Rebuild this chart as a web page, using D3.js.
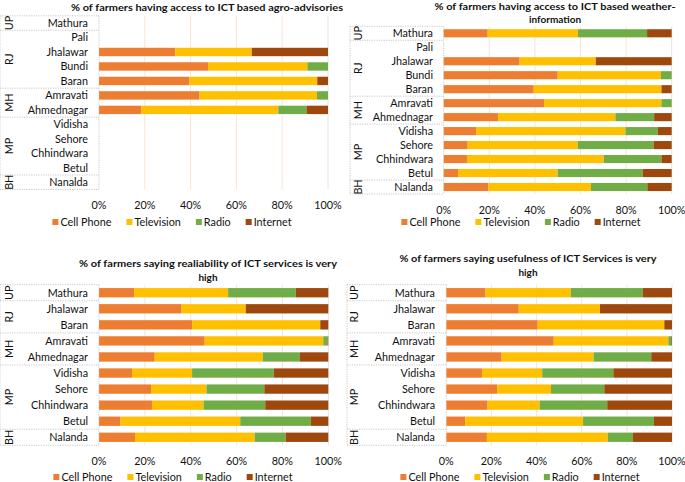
<html>
<script src='https://d3js.org/d3.v7.min.js'></script>
<style>
    body { margin: 0; background: #fff; }
    text { font-family: Lato, 'Open Sans', sans-serif; fill: #111; }
</style>

<body>
    <svg width=685 height=482></svg>
    <script>
        // series names and colours
        const series = ['Cell Phone', 'Television', 'Radio', 'Internet'];
        const colors = ['#ED7D31', '#FFC000', '#70AD47', '#9E480E'];
        const ticks = [0, 20, 40, 60, 80, 100];

        // districts, grouped by state
        const groupsA = [['UP', ['Mathura']], ['RJ', ['Pali', 'Jhalawar', 'Bundi', 'Baran']], ['MH', ['Amravati', 'Ahmednagar']], ['MP', ['Vidisha', 'Sehore', 'Chhindwara', 'Betul']], ['BH', ['Nanalda']]];
        const groupsB = [['UP', ['Mathura']], ['RJ', ['Pali', 'Jhalawar', 'Bundi', 'Baran']], ['MH', ['Amravati', 'Ahmednagar']], ['MP', ['Vidisha', 'Sehore', 'Chhindwara', 'Betul']], ['BH', ['Nalanda']]];
        const groupsC = [['UP', ['Mathura']], ['RJ', ['Jhalawar', 'Baran']], ['MH', ['Amravati', 'Ahmednagar']], ['MP', ['Vidisha', 'Sehore', 'Chhindwara', 'Betul']], ['BH', ['Nalanda']]];

        // % shares: Cell Phone, Television, Radio, Internet (null = no data)
        const agro = {
            Mathura: null, Pali: null,
            Jhalawar: [33.3, 33.4, 0, 33.3],
            Bundi: [47.6, 43.4, 9, 0],
            Baran: [39.5, 55.8, 0, 4.7],
            Amravati: [43.9, 51.3, 4.8, 0],
            Ahmednagar: [18.5, 59.8, 12.3, 9.4],
            Vidisha: null, Sehore: null, Chhindwara: null, Betul: null, Nanalda: null
        };
        const weather = {
            Mathura: [19.3, 39.6, 30.3, 10.8],
            Pali: null,
            Jhalawar: [33.3, 33.4, 0, 33.3],
            Bundi: [50, 45.3, 4.7, 0],
            Baran: [39.5, 56, 0, 4.5],
            Amravati: [44, 51.5, 4.5, 0],
            Ahmednagar: [23.8, 51.5, 17, 7.7],
            Vidisha: [14.2, 65.5, 14.2, 6.1],
            Sehore: [10.5, 48.3, 33.2, 8],
            Chhindwara: [10.2, 60, 25.3, 4.5],
            Betul: [6.3, 43.7, 37.3, 12.7],
            Nalanda: [19.6, 45, 24.7, 10.7]
        };
        const reliability = {
            Mathura: [15.3, 41, 29.5, 14.2],
            Jhalawar: [36, 28, 0, 36],
            Baran: [40.6, 55.9, 0, 3.5],
            Amravati: [46.1, 51.7, 1.9, 0.3],
            Ahmednagar: [24.3, 47.1, 16.2, 12.4],
            Vidisha: [14.4, 26.2, 35.6, 23.8],
            Sehore: [22.7, 24.2, 25.2, 27.9],
            Chhindwara: [23.1, 22.5, 26.9, 27.5],
            Betul: [9.4, 52.2, 30.8, 7.6],
            Nalanda: [15.7, 52.2, 13.5, 18.6]
        };
        const usefulness = {
            Mathura: [17.4, 37.8, 31.9, 12.9],
            Jhalawar: [32.1, 36, 0, 31.9],
            Baran: [40.5, 56.1, 0, 3.4],
            Amravati: [47.6, 50.8, 1.3, 0.3],
            Ahmednagar: [24.5, 40.8, 25.5, 9.2],
            Vidisha: [15.8, 26.7, 31.5, 26],
            Sehore: [22.5, 23.9, 23.6, 30],
            Chhindwara: [18.3, 23.1, 29.9, 28.7],
            Betul: [8.4, 52.2, 31.4, 8],
            Nalanda: [18, 53.5, 11.2, 17.3]
        };

        const panels = [
            { title: ['% of farmers having access to ICT based agro-advisories'], titleX: 207, titleY: [7], titleW: [272],
              groups: groupsA, values: agro, boxL: 0, grpX: 9, labR: 88, x0: 99, x1: 328, top: 15.8, bottom: 189.5,
              tickY: 205, legY: 222, legC: 172 },
            { title: ['% of farmers having access to ICT based weather-', 'information'], titleX: 555, titleY: [6, 19], titleW: [241, null],
              groups: groupsB, values: weather, boxL: 350, grpX: 358, labR: 433, x0: 443.7, x1: 671.7, top: 26.3, bottom: 194,
              tickY: 210, legY: 222, legC: 521 },
            { title: ['% of farmers saying realiability of ICT services is very', 'high'], titleX: 208, titleY: [263, 277], titleW: [258, null],
              groups: groupsC, values: reliability, boxL: 0, grpX: 9, labR: 88, x0: 99, x1: 328.3, top: 284.7, bottom: 445.3,
              tickY: 461, legY: 477, legC: 173 },
            { title: ['% of farmers saying usefulness of ICT Services is very', 'high'], titleX: 528, titleY: [258, 272], titleW: [257, null],
              groups: groupsC, values: usefulness, boxL: 347, grpX: 354, labR: 435, x0: 446.3, x1: 672, top: 284.7, bottom: 445.3,
              tickY: 461, legY: 477, legC: 520 }
        ];

        const svg = d3.select('svg');
        const fs = '10.8px';
        const legGap = 15;

        panels.forEach(p => {
            const g = svg.append('g');
            const cats = p.groups.flatMap(d => d[1]);
            const x = d3.scaleLinear().domain([0, 100]).range([p.x0, p.x1]);
            const y = d3.scaleBand().domain(cats).range([p.top, p.bottom]).paddingInner(0.42).paddingOuter(0.21);

            // gridlines
            g.selectAll('.grid').data(ticks.slice(1)).enter().append('line')
                .attr('x1', d => x(d)).attr('x2', d => x(d))
                .attr('y1', p.top).attr('y2', p.bottom)
                .attr('stroke', d => d == 100 ? '#e4e4e4' : '#fbe3d3').attr('stroke-width', 1);

            // stacked bars
            const rows = cats.filter(c => p.values[c]).map(c => {
                let acc = 0;
                return p.values[c].map((v, i) => { const s = { cat: c, i: i, a: acc, b: acc + v }; acc += v; return s; });
            }).flat().filter(s => s.b > s.a);
            g.selectAll('rect').data(rows).enter().append('rect')
                .attr('x', d => x(d.a)).attr('width', d => x(d.b) - x(d.a))
                .attr('y', d => y(d.cat)).attr('height', y.bandwidth())
                .attr('fill', d => colors[d.i]);

            // category box (dotted)
            const dotted = sel => sel.attr('stroke', '#bbb').attr('stroke-width', 0.8).attr('stroke-dasharray', '1.2,1.2');
            let edges = [p.top], acc = 0;
            p.groups.forEach(gr => { acc += gr[1].length; edges.push(p.top + acc * y.step()); });
            edges.forEach(e => {
                g.append('line').attr('x1', p.boxL).attr('x2', p.x0).attr('y1', e).attr('y2', e).call(dotted);
            });
            [p.boxL, p.x0].forEach(xx => {
                g.append('line').attr('x1', xx).attr('x2', xx).attr('y1', p.top).attr('y2', p.bottom).call(dotted);
            });

            // district labels
            g.selectAll('.cat').data(cats).enter().append('text')
                .attr('x', p.labR).attr('y', d => y(d) + y.bandwidth() / 2)
                .attr('text-anchor', 'end').attr('dy', '0.35em')
                .style('font-size', fs).text(d => d);

            // state labels (rotated)
            let start = 0;
            p.groups.forEach(gr => {
                const cy = p.top + (start + gr[1].length / 2) * y.step();
                start += gr[1].length;
                g.append('text').attr('transform', `translate(${p.grpX},${cy}) rotate(-90)`)
                    .attr('text-anchor', 'middle').attr('dy', '0.35em')
                    .style('font-size', fs).text(gr[0]);
            });

            // x axis labels
            g.selectAll('.tick').data(ticks).enter().append('text')
                .attr('x', d => x(d)).attr('y', p.tickY).attr('dy', '0.35em')
                .attr('text-anchor', 'middle').style('font-size', fs).text(d => d + '%');

            // title
            p.title.forEach((t, i) => {
                const tt = g.append('text').attr('x', p.titleX).attr('y', p.titleY[i]).attr('dy', '0.35em')
                    .attr('text-anchor', 'middle').style('font-size', '10px').style('font-weight', 'bold').text(t);
                if (p.titleW[i]) tt.attr('textLength', p.titleW[i]).attr('lengthAdjust', 'spacingAndGlyphs');
            });

            // legend, laid out from measured text widths and centred
            const leg = g.append('g');
            let lx = 0;
            series.forEach((s, i) => {
                leg.append('rect').attr('x', lx).attr('y', p.legY - 3).attr('width', 6).attr('height', 6).attr('fill', colors[i]);
                const t = leg.append('text').attr('x', lx + 8).attr('y', p.legY).attr('dy', '0.35em')
                    .style('font-size', fs).text(s);
                lx += 8 + t.node().getComputedTextLength() + legGap;
            });
            leg.attr('transform', `translate(${p.legC - (lx - legGap) / 2},0)`);
        });
    </script>
</body>

</html>
